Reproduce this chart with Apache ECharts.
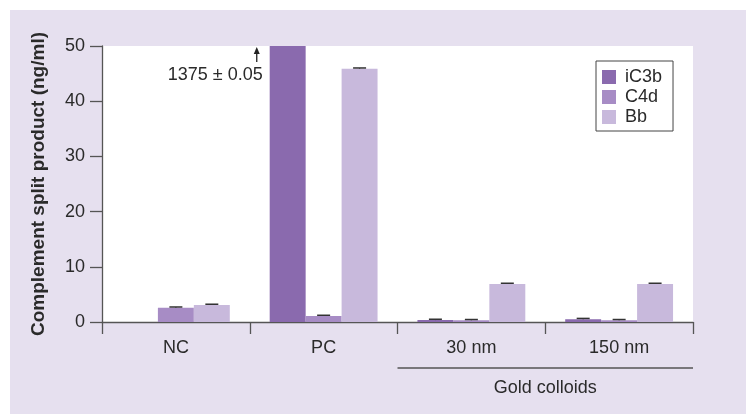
<!DOCTYPE html>
<html><head><meta charset="utf-8">
<script src="https://cdn.jsdelivr.net/npm/echarts@6/dist/echarts.min.js"></script>
<style>
html,body{margin:0;padding:0;background:#fff;}
#bg{position:absolute;left:10px;top:10px;width:736px;height:404px;background:#e6e0ef;}
#chart{position:absolute;left:0;top:0;width:746px;height:414px;}
</style></head>
<body>
<div id="bg"></div>
<div id="chart"></div>
<script>
const categories = ['NC', 'PC', '30 nm', '150 nm'];
const seriesNames = ['iC3b', 'C4d', 'Bb'];
const iC3b = [0, 1375, 0.35, 0.5];
const C4d = [2.6, 1.1, 0.3, 0.3];
const Bb = [3.1, 45.9, 6.9, 6.9];
const iC3bErr = [0, 0.05, 0.15, 0.15];
const C4dErr = [0.12, 0.12, 0.15, 0.15];
const BbErr = [0.12, 0.12, 0.12, 0.12];
const yTicks = [0, 10, 20, 30, 40, 50];
const colors = ['#8a6aae', '#a78cc5', '#c8b9dc'];
const annotationText = '1375 ± 0.05';
const groupLabel = 'Gold colloids';

const FONT = '"Liberation Sans", Arial, Helvetica, sans-serif';
const gapRatio = 0.27;
const values = [iC3b, C4d, Bb];
const errs = [iC3bErr, C4dErr, BbErr];

const chart = echarts.init(document.getElementById('chart'), null, {renderer: 'canvas'});

function errRender(sIdx) {
  return function (params, api) {
    const ci = api.value(0);
    const v = api.value(1);
    const e = api.value(2);
    if (v <= 0 || v > 50) return null;
    const bandW = api.size([1, 0])[0];
    const bw = bandW * (1 - gapRatio) / 3;
    const base = api.coord([ci, v]);
    const top = api.coord([ci, v + e]);
    const x = base[0] + (sIdx - 1) * bw;
    const half = 6.5;
    return {
      type: 'group',
      children: [
        {type: 'line', shape: {x1: x, y1: base[1], x2: x, y2: top[1]}, style: {stroke: '#333', lineWidth: 1.2}},
        {type: 'line', shape: {x1: x - half, y1: top[1], x2: x + half, y2: top[1]}, style: {stroke: '#333', lineWidth: 1.5}}
      ]
    };
  };
}

const series = [];
seriesNames.forEach((n, i) => {
  series.push({
    name: n, type: 'bar', data: values[i], barGap: 0, barCategoryGap: (gapRatio * 100) + '%',
    itemStyle: {color: colors[i]}, clip: true, z: 2
  });
});
seriesNames.forEach((n, i) => {
  series.push({
    type: 'custom', renderItem: errRender(i), z: 3,
    data: categories.map((c, k) => [k, values[i][k], errs[i][k]]),
    encode: {x: 0, y: 1}, silent: true, clip: false
  });
});

chart.setOption({
  animation: false,
  backgroundColor: 'transparent',
  textStyle: {fontFamily: FONT},
  grid: {left: 102, right: 53, top: 46, bottom: 92, show: true, backgroundColor: '#ffffff', borderWidth: 0},
  legend: {
    data: seriesNames, orient: 'vertical', left: 596, top: 61,
    padding: [7, 11, 5, 6], itemGap: 2, itemWidth: 14, itemHeight: 14,
    borderColor: '#444', borderWidth: 1, backgroundColor: '#fff',
    icon: 'rect', selectedMode: false,
    textStyle: {fontSize: 18, color: '#2a2a2a', fontFamily: FONT, padding: [0, 0, 0, 4]}
  },
  xAxis: {
    type: 'category', data: categories,
    axisLine: {lineStyle: {color: '#555', width: 1.3}},
    axisTick: {show: true, length: 12, lineStyle: {color: '#555', width: 1.3}},
    axisLabel: {fontSize: 18, color: '#2a2a2a', margin: 17, fontFamily: FONT},
    splitLine: {show: false}
  },
  yAxis: {
    type: 'value', min: yTicks[0], max: yTicks[yTicks.length - 1], interval: yTicks[1] - yTicks[0],
    name: 'Complement split product (ng/ml)', nameLocation: 'middle', nameGap: 54, nameRotate: 90,
    nameTextStyle: {fontSize: 19, fontWeight: 'bold', color: '#2a2a2a', fontFamily: FONT},
    axisLine: {show: true, lineStyle: {color: '#555', width: 1.3}},
    axisTick: {show: true, length: 12, lineStyle: {color: '#555', width: 1.3}},
    axisLabel: {fontSize: 18, color: '#2a2a2a', margin: 17, fontFamily: FONT},
    splitLine: {show: false}
  },
  series: series
});

// annotation & group label placed relative to axis scale
const pcLeft = chart.convertToPixel({xAxisIndex: 0, yAxisIndex: 0}, [1, 50]);
const bandW = chart.getModel().getComponent('xAxis', 0).axis.getBandWidth();
const boundary = pcLeft[0] - bandW / 2;
const y50 = pcLeft[1];
const y0 = chart.convertToPixel({yAxisIndex: 0}, 0);
const c30 = chart.convertToPixel({xAxisIndex: 0}, 2);
const c150 = chart.convertToPixel({xAxisIndex: 0}, 3);
const ax = boundary + 7;
chart.setOption({
  graphic: [
    {type: 'line', shape: {x1: ax, y1: y50 + 16, x2: ax, y2: y50 + 4}, style: {stroke: '#222', lineWidth: 1.3}, z: 10},
    {type: 'polygon', shape: {points: [[ax - 3, y50 + 8], [ax + 3, y50 + 8], [ax, y50 + 1]]}, style: {fill: '#222'}, z: 10},
    {type: 'text', x: boundary + 13, y: y50 + 29, style: {text: annotationText, font: '18px ' + FONT, fill: '#2a2a2a', align: 'right', verticalAlign: 'middle'}, z: 10},
    {type: 'line', shape: {x1: c30 - bandW / 2, y1: y0 + 46, x2: c150 + bandW / 2, y2: y0 + 46}, style: {stroke: '#555', lineWidth: 1.5}, z: 10},
    {type: 'text', x: (c30 + c150) / 2, y: y0 + 66, style: {text: groupLabel, font: '18px ' + FONT, fill: '#2a2a2a', align: 'center', verticalAlign: 'middle'}, z: 10}
  ]
});
</script>
</body></html>
